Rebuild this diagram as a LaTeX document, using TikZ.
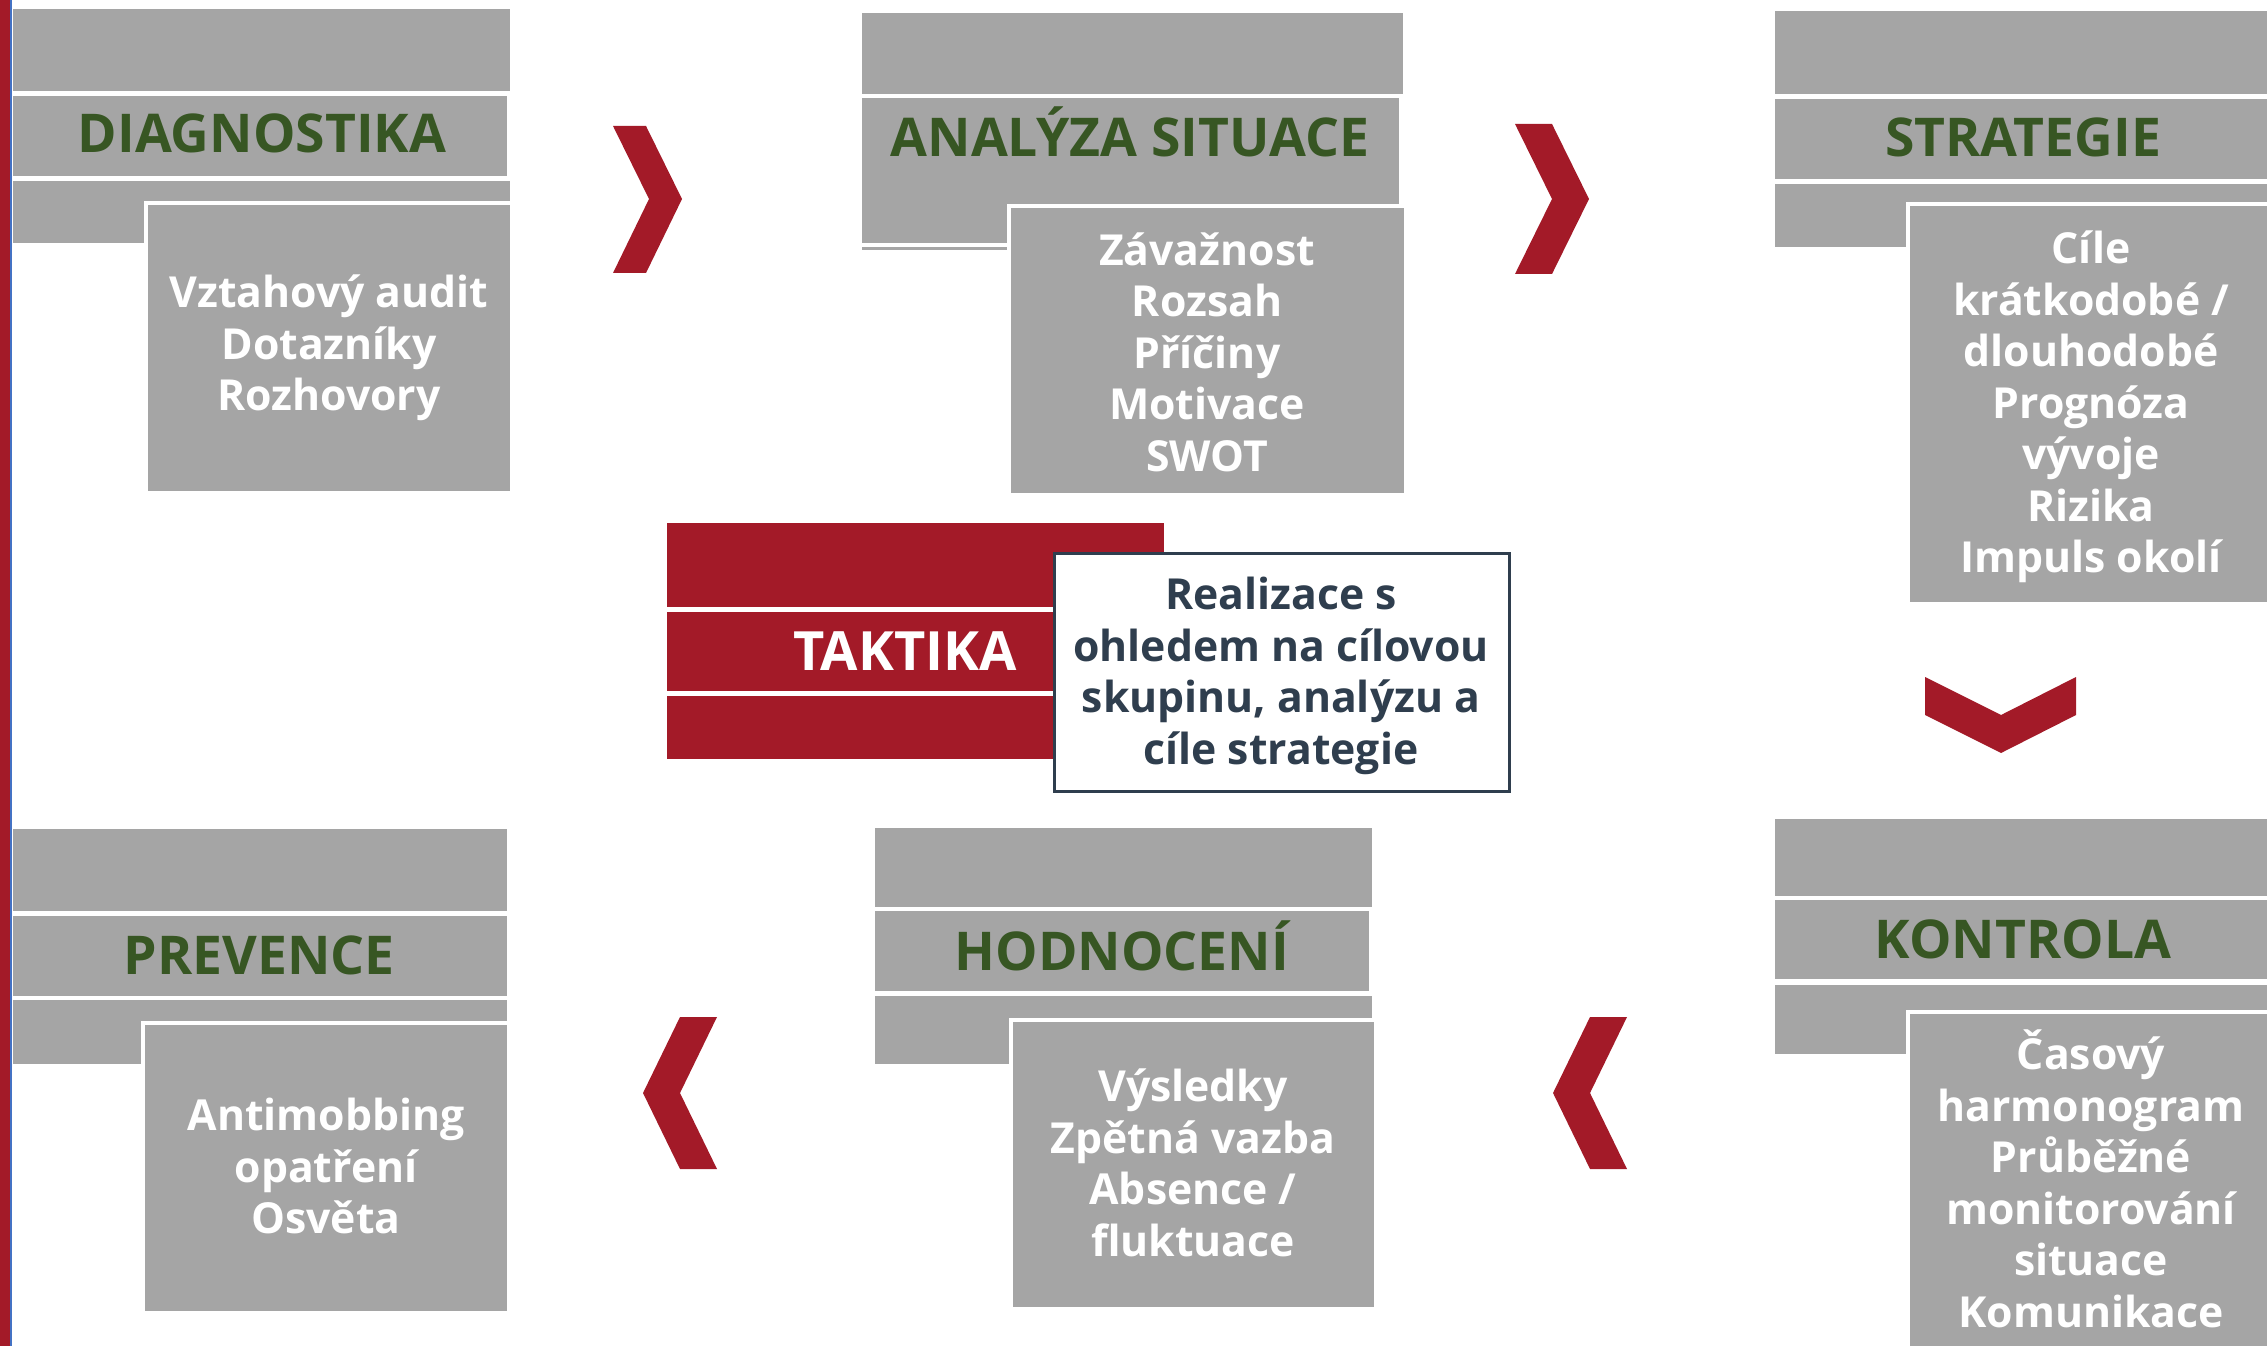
\documentclass[tikz,border=0pt]{standalone}
\usepackage{fontspec}
\setmainfont{Open Sans}
\definecolor{boxgray}{HTML}{A5A5A5}
\definecolor{titlegreen}{HTML}{375623}
\definecolor{mainred}{HTML}{A31A28}
\definecolor{slate}{HTML}{2F3E4E}
\definecolor{edgeblue}{HTML}{4472C4}
\begin{document}
\begin{tikzpicture}[x=0.01cm,y=-0.01cm,
  stripe/.style={fill=boxgray},
  cbox/.style={fill=boxgray,draw=white,line width=0.04cm},
  chev/.style={fill=mainred},
  title/.style={font=\fontsize{15.2pt}{18pt}\selectfont\bfseries,text=titlegreen,anchor=base,inner sep=0pt},
  ctext/.style={font=\fontsize{12.15pt}{14.65pt}\selectfont\bfseries,text=white,align=center,inner sep=0pt},
  rtext/.style={ctext,text=slate}]
\clip (0,0) rectangle (2267,1346);
\fill[white] (0,0) rectangle (2267,1346);
% left edge
\fill[mainred] (0,0) rectangle (10,1346);
\fill[edgeblue] (10,0) rectangle (12,1346);

% DIAGNOSTIKA
\fill[stripe] (13,9) rectangle (510,91);
\fill[stripe] (13,96) rectangle (507,176);
\fill[stripe] (13,181) rectangle (510,243);
\path[cbox] (146,203) rectangle (512,493);
\node[title] (t1) at (262,153) {DIAGNOSTIKA};
\node[ctext] (c1) at (329,348) {Vztahový audit\\Dotazníky\\Rozhovory};

% ANALYZA SITUACE
\fill[stripe] (862,13) rectangle (1403,94);
\fill[stripe] (862,98) rectangle (1399,243);
\fill[stripe] (862,247) rectangle (1010,250);
\path[cbox] (1009,206) rectangle (1406,495);
\node[title] (t2) at (1130,157) {ANALÝZA SITUACE};
\node[ctext] (c2) at (1207,352) {Závažnost\\Rozsah\\Příčiny\\Motivace\\SWOT};

% STRATEGIE
\fill[stripe] (1775,11) rectangle (2280,94);
\fill[stripe] (1775,99) rectangle (2280,179);
\fill[stripe] (1775,184) rectangle (2280,247);
\path[cbox] (1908,204) rectangle (2274,604);
\node[title] (t3) at (2023,157) {STRATEGIE};
\node[ctext] (c3) at (2091,407) {Cíle\\krátkodobé /\\dlouhodobé\\Prognóza\\vývoje\\Rizika\\Impuls okolí};

% KONTROLA
\fill[stripe] (1775,819) rectangle (2280,896);
\fill[stripe] (1775,900) rectangle (2280,979);
\fill[stripe] (1775,985) rectangle (2280,1054);
\path[cbox] (1908,1012) rectangle (2274,1360);
\node[title] (t4) at (2023,958) {KONTROLA};
\node[ctext] (c4) at (2091,1179) {Časový\\harmonogram\\Průběžné\\monitorování\\situace\\Komunikace};

% PREVENCE
\fill[stripe] (13,829) rectangle (507,911);
\fill[stripe] (13,916) rectangle (507,996);
\fill[stripe] (13,1000) rectangle (507,1064);
\path[cbox] (143,1023) rectangle (509,1313);
\node[title] (t5) at (259,974) {PREVENCE};
\node[ctext] (c5) at (326,1166) {Antimobbing\\opatření\\Osvěta};

% HODNOCENI
\fill[stripe] (875,828) rectangle (1372,907);
\fill[stripe] (875,911) rectangle (1369,991);
\fill[stripe] (875,996) rectangle (1372,1064);
\path[cbox] (1011,1020) rectangle (1376,1309);
\node[title] (t6) at (1122,970) {HODNOCENÍ};
\node[ctext] (c6) at (1193,1163) {Výsledky\\Zpětná vazba\\Absence /\\fluktuace};

% TAKTIKA
\fill[mainred] (667,523) rectangle (1164,607);
\fill[mainred] (667,612) rectangle (1164,691);
\fill[mainred] (667,696) rectangle (1164,759);
\node[font=\fontsize{15.4pt}{18pt}\selectfont\bfseries,text=white,anchor=base,inner sep=0pt] (tt) at (905,670) {TAKTIKA};
\path[fill=white,draw=slate,line width=0.03cm] (1054,553) rectangle (1509,791);
\node[rtext] (ct) at (1281,676) {Realizace s\\ohledem na cílovou\\skupinu, analýzu a\\cíle strategie};

% chevrons
\fill[chev] (613,126) -- (646,126) -- (682,199) -- (646,273) -- (613,273) -- (649,199) -- cycle;
\fill[chev] (1515,124) -- (1552,124) -- (1589,199) -- (1552,274) -- (1515,274) -- (1552,199) -- cycle;
\fill[chev] (1925,677) -- (2001,715) -- (2076,677) -- (2076,715) -- (2001,753) -- (1925,715) -- cycle;
\fill[chev] (1627,1017) -- (1590,1017) -- (1553,1093) -- (1590,1169) -- (1627,1169) -- (1590,1093) -- cycle;
\fill[chev] (717,1017) -- (680,1017) -- (643,1093) -- (680,1169) -- (717,1169) -- (680,1093) -- cycle;
\end{tikzpicture}
\end{document}
